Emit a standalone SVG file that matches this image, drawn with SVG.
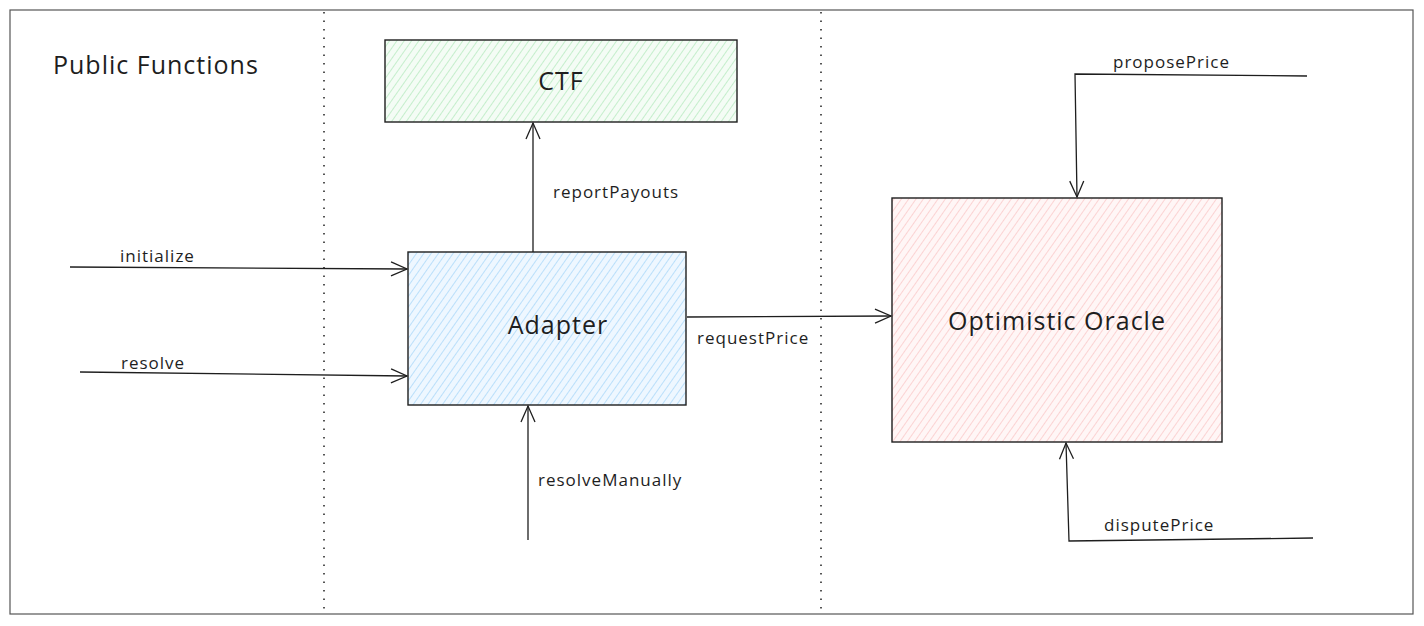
<svg xmlns="http://www.w3.org/2000/svg" width="1424" height="626" viewBox="0 0 1424 626">
<defs>
<pattern id="hG" width="6" height="6" patternUnits="userSpaceOnUse" patternTransform="rotate(35)">
<rect width="6" height="6" fill="#f4fcf5"/><line x1="0" y1="0" x2="0" y2="6" stroke="#9fe4aa" stroke-width="1.1"/></pattern>
<pattern id="hB" width="6" height="6" patternUnits="userSpaceOnUse" patternTransform="rotate(35)">
<rect width="6" height="6" fill="#eef7ff"/><line x1="0" y1="0" x2="0" y2="6" stroke="#8fcbf7" stroke-width="1.1"/></pattern>
<pattern id="hR" width="6" height="6" patternUnits="userSpaceOnUse" patternTransform="rotate(35)">
<rect width="6" height="6" fill="#fff6f6"/><line x1="0" y1="0" x2="0" y2="6" stroke="#f8b7b7" stroke-width="1.1"/></pattern>
<marker id="arr" viewBox="0 0 20 20" refX="18" refY="10" markerWidth="20" markerHeight="20" markerUnits="userSpaceOnUse" orient="auto">
<path d="M2,3 L18,10 L2,17" fill="none" stroke="#1e1e1e" stroke-width="1.3"/></marker>
</defs>
<style>
.box{stroke:#1e1e1e;stroke-width:1.4}
.lbl{font-family:"Open Sans","Lato",sans-serif;font-size:17px;letter-spacing:1px;fill:#1e1e1e}
.title{font-family:"Open Sans","Lato",sans-serif;font-size:25px;letter-spacing:1px;fill:#1e1e1e;text-anchor:middle}
.conn{fill:none;stroke:#1e1e1e;stroke-width:1.3}
.div{stroke:#1e1e1e;stroke-width:1.5;stroke-dasharray:1.5 7}
</style>
<rect width="1424" height="626" fill="#ffffff"/>
<rect x="10" y="10" width="1403" height="604" fill="none" stroke="#555" stroke-width="1.2"/>
<line class="div" x1="324" y1="12" x2="324" y2="613"/>
<line class="div" x1="821" y1="12" x2="821" y2="613"/>
<text x="53" y="74" style="font-family:'Open Sans','Lato',sans-serif;font-size:25px;letter-spacing:1px;fill:#1e1e1e">Public Functions</text>
<g id="ctf"><rect class="box" x="385" y="40" width="352" height="82" fill="url(#hG)"/><text class="title" x="561" y="90">CTF</text></g>
<g id="adapter"><rect class="box" x="408" y="252" width="278" height="153" fill="url(#hB)"/><text class="title" x="558" y="334">Adapter</text></g>
<g id="oracle"><rect class="box" x="892" y="198" width="330" height="244" fill="url(#hR)"/><text class="title" x="1057" y="330">Optimistic Oracle</text></g>
<g id="connectors">
<path class="conn" d="M533,252 L533,123" marker-end="url(#arr)"/>
<path class="conn" d="M70,267 L407,269" marker-end="url(#arr)"/>
<path class="conn" d="M80,372 L407,376" marker-end="url(#arr)"/>
<path class="conn" d="M528,540 L528,406" marker-end="url(#arr)"/>
<path class="conn" d="M687,317 L891,316" marker-end="url(#arr)"/>
<path class="conn" d="M1307,76 L1075,74 L1077,197" marker-end="url(#arr)"/>
<path class="conn" d="M1313,538 L1069,541 L1066,443" marker-end="url(#arr)"/>
<text class="lbl" x="553" y="198">reportPayouts</text>
<text class="lbl" x="120" y="262">initialize</text>
<text class="lbl" x="121" y="369">resolve</text>
<text class="lbl" x="538" y="486">resolveManually</text>
<text class="lbl" x="697" y="344">requestPrice</text>
<text class="lbl" x="1113" y="68">proposePrice</text>
<text class="lbl" x="1104" y="531">disputePrice</text>
</g>
</svg>
